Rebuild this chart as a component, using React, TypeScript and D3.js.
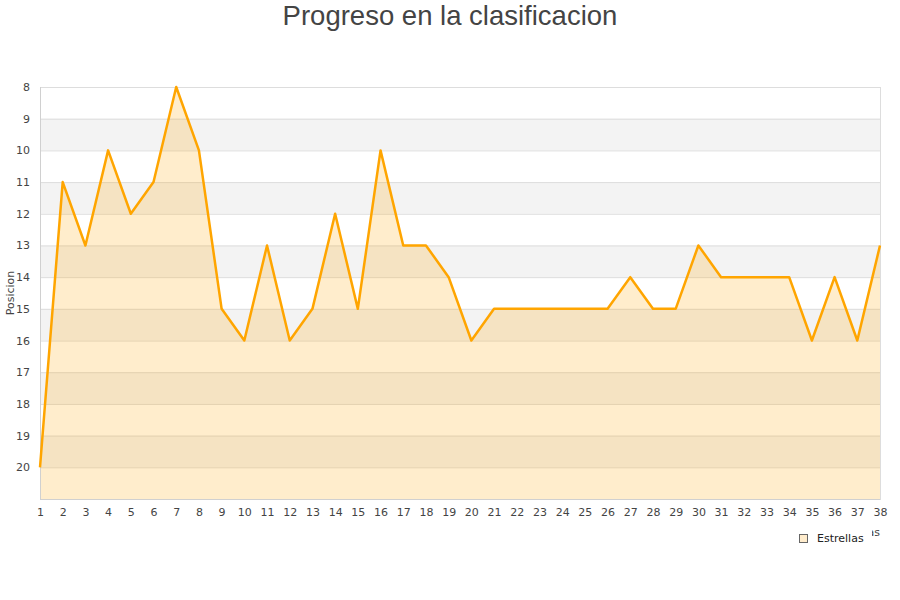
import { useRef, useEffect } from "react";
import * as d3 from "d3";

const jornadas = d3.range(1, 39);
const posiciones = [
  20, 11, 13, 10, 12, 11, 8, 10, 15, 16, 13, 16, 15, 12, 15, 10, 13, 13, 14, 16,
  15, 15, 15, 15, 15, 15, 14, 15, 15, 13, 14, 14, 14, 14, 16, 14, 16, 13,
];
const yTicks = d3.range(8, 21);

const WIDTH = 900;
const HEIGHT = 600;
const MARGIN = { top: 87, right: 20, bottom: 101, left: 40 };
const INNER_W = WIDTH - MARGIN.left - MARGIN.right;
const INNER_H = HEIGHT - MARGIN.top - MARGIN.bottom;
const FONT = "DejaVu Sans, sans-serif";

export default function App() {
  const svgRef = useRef<SVGSVGElement>(null);

  useEffect(() => {
    const svg = d3.select(svgRef.current);
    svg.selectAll("*").remove();

    const x = d3.scaleLinear().domain([1, 38]).range([0, INNER_W]);
    const y = d3.scaleLinear().domain([8, 21]).range([0, INNER_H]);

    svg
      .append("text")
      .attr("x", WIDTH / 2)
      .attr("y", 25)
      .attr("text-anchor", "middle")
      .attr("font-family", "Liberation Sans, Arial, sans-serif")
      .attr("font-size", 27.5)
      .attr("fill", "#444")
      .text("Progreso en la clasificacion");

    const g = svg.append("g").attr("transform", `translate(${MARGIN.left},${MARGIN.top})`);

    // alternating bands
    g.selectAll("rect.band")
      .data(d3.range(8, 21))
      .join("rect")
      .attr("x", 0)
      .attr("y", (d) => y(d))
      .attr("width", INNER_W)
      .attr("height", y(9) - y(8))
      .attr("fill", (d) => (d % 2 === 1 ? "#f3f3f3" : "#ffffff"));

    // grid
    g.selectAll("line.grid")
      .data(yTicks)
      .join("line")
      .attr("x1", 0)
      .attr("x2", INNER_W)
      .attr("y1", (d) => y(d) + 0.5)
      .attr("y2", (d) => y(d) + 0.5)
      .attr("stroke", "#dddddd");

    // area
    const area = d3
      .area<number>()
      .x((_, i) => x(jornadas[i]))
      .y0(INNER_H)
      .y1((d) => y(d));
    g.append("path").datum(posiciones).attr("d", area).attr("fill", "#ffa500").attr("fill-opacity", 0.2);

    // frame
    g.append("rect")
      .attr("x", 0.5)
      .attr("y", 0.5)
      .attr("width", INNER_W)
      .attr("height", INNER_H)
      .attr("fill", "none")
      .attr("stroke", "#dddddd");
    g.append("line")
      .attr("x1", 0.5)
      .attr("x2", 0.5)
      .attr("y1", 0)
      .attr("y2", INNER_H)
      .attr("stroke", "#d0d0d0");
    g.append("line")
      .attr("x1", 0)
      .attr("x2", INNER_W)
      .attr("y1", INNER_H + 0.5)
      .attr("y2", INNER_H + 0.5)
      .attr("stroke", "#d0d0d0");

    // line
    const line = d3
      .line<number>()
      .x((_, i) => x(jornadas[i]))
      .y((d) => y(d));
    g.append("path")
      .datum(posiciones)
      .attr("d", line)
      .attr("fill", "none")
      .attr("stroke", "#ffa500")
      .attr("stroke-width", 2.5)
      .attr("stroke-linejoin", "round");

    // axes
    g.append("g")
      .attr("transform", `translate(0,${INNER_H})`)
      .call(d3.axisBottom(x).tickValues(jornadas).tickFormat(d3.format("d")).tickSize(0).tickPadding(9))
      .call((a) => a.select(".domain").remove())
      .call((a) =>
        a.selectAll("text").attr("fill", "#444").attr("font-size", "11px").attr("font-family", FONT)
      );

    g.append("g")
      .call(d3.axisLeft(y).tickValues(yTicks).tickFormat(d3.format("d")).tickSize(0).tickPadding(10))
      .call((a) => a.select(".domain").remove())
      .call((a) =>
        a.selectAll("text").attr("fill", "#444").attr("font-size", "11px").attr("font-family", FONT)
      );

    svg
      .append("text")
      .attr("transform", `translate(14,${MARGIN.top + 206}) rotate(-90)`)
      .attr("text-anchor", "middle")
      .attr("font-family", FONT)
      .attr("font-size", 11)
      .attr("fill", "#444")
      .text("Posicion");

    // x axis title, mostly hidden behind the legend
    svg
      .append("text")
      .attr("x", 880)
      .attr("y", 536)
      .attr("text-anchor", "end")
      .attr("font-family", FONT)
      .attr("font-size", 11)
      .attr("fill", "#444")
      .text("Jornadas");

    const lg = svg.append("g").attr("transform", "translate(792,527)");
    lg.append("rect").attr("x", 0).attr("y", 0).attr("width", 80).attr("height", 24).attr("fill", "#fff");
    lg.append("rect")
      .attr("x", 7.5)
      .attr("y", 7.5)
      .attr("width", 8)
      .attr("height", 8)
      .attr("fill", "#ffeccc")
      .attr("stroke", "#666");
    lg.append("text")
      .attr("x", 25)
      .attr("y", 15)
      .attr("font-family", FONT)
      .attr("font-size", 11)
      .attr("fill", "#222")
      .text("Estrellas");
  }, []);

  return (
    <svg
      ref={svgRef}
      width={WIDTH}
      height={HEIGHT}
      style={{ position: "absolute", left: 0, top: 0, background: "#fff" }}
    />
  );
}
